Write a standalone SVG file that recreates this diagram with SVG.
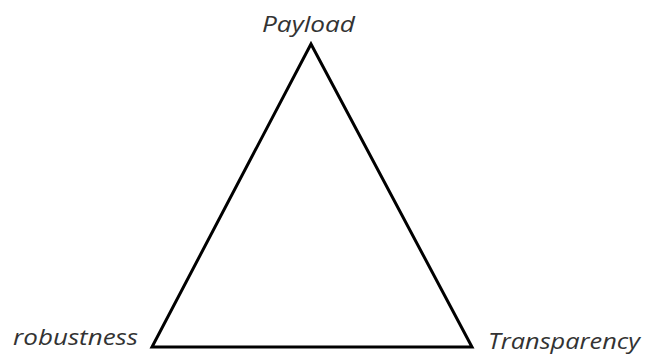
<svg xmlns="http://www.w3.org/2000/svg" width="648" height="356" viewBox="0 0 648 356">
<style>
.lbl{font-family:"Open Sans","Liberation Sans",sans-serif;font-style:italic;font-size:21px;fill:#333}
.edge{fill:none;stroke:#000;stroke-width:3;stroke-linejoin:miter}
</style>
<rect width="648" height="356" fill="#fff"/>
<g id="connectors">
<polygon class="edge" points="311,44 152,347 472,347"/>
</g>
<g id="payload"><text class="lbl" x="262" y="32" textLength="93" lengthAdjust="spacingAndGlyphs">Payload</text></g>
<g id="robustness"><text class="lbl" x="13" y="345" textLength="125" lengthAdjust="spacingAndGlyphs">robustness</text></g>
<g id="transparency"><text class="lbl" x="488" y="349" font-size="20" textLength="152" lengthAdjust="spacingAndGlyphs">Transparency</text></g>
</svg>
